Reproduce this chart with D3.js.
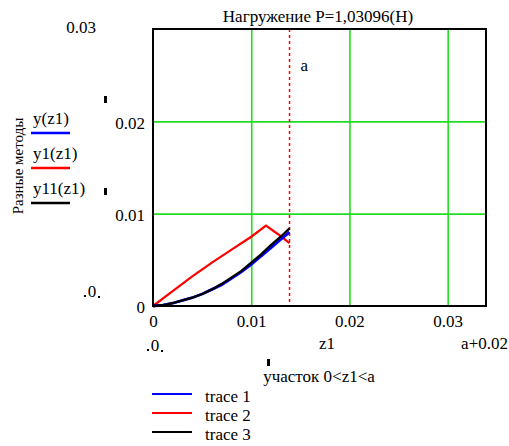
<!DOCTYPE html>
<html>
<head>
<meta charset="utf-8">
<script src="https://cdn.jsdelivr.net/npm/d3@7"></script>
<style>
  html, body { margin: 0; padding: 0; background: #fff; }
  svg { display: block; }
</style>
</head>
<body>
<svg id="chart" width="509" height="446"></svg>
<script>
// Beam deflection on segment 0 < z1 < a, three methods
const aValue = 0.0139;
const xTicks = [0, 0.01, 0.02, 0.03];
const yTicks = [0, 0.01, 0.02];
const xMax = 0.0339;   // a + 0.02
const yMax = 0.03;

const zGrid = [0, 0.001, 0.002, 0.003, 0.004, 0.005, 0.006, 0.007, 0.008, 0.009, 0.010, 0.011, 0.012, 0.013, 0.0139];
const yMain = [0, 0.0001, 0.0003, 0.0006, 0.0009, 0.0013, 0.0018, 0.0023, 0.0030, 0.0037, 0.0045, 0.0054, 0.0063, 0.0072, 0.0080];
const y11   = [0, 0.0001, 0.0003, 0.0006, 0.0009, 0.0013, 0.0018, 0.0024, 0.0031, 0.0038, 0.0047, 0.0056, 0.0066, 0.0075, 0.0084];
const zRed  = [0, 0.002, 0.004, 0.006, 0.008, 0.010, 0.0115, 0.0127, 0.0139];
const y1    = [0, 0.0016, 0.0032, 0.0047, 0.0061, 0.0075, 0.0087, 0.0078, 0.0068];

const seriesNames = ["y(z1)", "y1(z1)", "y11(z1)"];
const traceNames = ["trace 1", "trace 2", "trace 3"];
const colors = ["#0000ff", "#ff0000", "#000000"];

const FONT = "'Liberation Serif', 'Times New Roman', serif";
const SIZE = 17;
const svg = d3.select("#chart").attr("font-family", FONT);
const plotLeft = 153, plotRight = 486, plotTop = 29, plotBottom = 306;

const x = d3.scaleLinear().domain([0, xMax]).range([plotLeft, plotRight]);
const y = d3.scaleLinear().domain([0, yMax]).range([plotBottom, plotTop]);
const fmt = d => d === 0 ? "0" : d3.format(".2f")(d);

function label(px, py, str, anchor = "start", size = SIZE) {
  return svg.append("text").attr("x", px).attr("y", py)
    .attr("font-size", size).attr("font-family", FONT)
    .attr("text-anchor", anchor).attr("fill", "#000")
    .text(str);
}

// grid
const gridX = svg.append("g").attr("transform", `translate(0,${plotBottom})`)
  .call(d3.axisBottom(x).tickValues(xTicks.filter(d => d > 0)).tickSize(-(plotBottom - plotTop)).tickFormat(""));
const gridY = svg.append("g").attr("transform", `translate(${plotLeft},0)`)
  .call(d3.axisLeft(y).tickValues(yTicks.filter(d => d > 0)).tickSize(-(plotRight - plotLeft)).tickFormat(""));
[gridX, gridY].forEach(g => {
  g.select(".domain").remove();
  g.selectAll("line").attr("stroke", "#22dd22").attr("stroke-width", 1.6);
});

// tick labels
const axX = svg.append("g").attr("transform", `translate(0,${plotBottom})`)
  .call(d3.axisBottom(x).tickValues(xTicks).tickSize(0).tickPadding(9).tickFormat(fmt));
const axY = svg.append("g").attr("transform", `translate(${plotLeft},0)`)
  .call(d3.axisLeft(y).tickValues(yTicks).tickSize(0).tickPadding(8).tickFormat(fmt));
[axX, axY].forEach(g => {
  g.select(".domain").remove();
  g.attr("font-family", FONT).attr("font-size", SIZE);
  g.selectAll("text").attr("font-family", FONT).attr("font-size", SIZE).attr("fill", "#000");
});
axY.selectAll("text").attr("dy", "0.4em");
axX.selectAll("text").attr("dy", "0.7em");

// marker line x = a
svg.append("line")
  .attr("x1", x(aValue)).attr("x2", x(aValue))
  .attr("y1", plotTop).attr("y2", plotBottom)
  .attr("stroke", "#ff0000").attr("stroke-width", 1.5).attr("stroke-dasharray", "3,3");
label(x(aValue) + 11, 71, "a");

// curves
const line = d3.line().x(d => x(d[0])).y(d => y(d[1]));
svg.append("path").datum(zRed.map((z, i) => [z, y1[i]]))
  .attr("d", line).attr("fill", "none").attr("stroke", colors[1]).attr("stroke-width", 2.2);
svg.append("path").datum(zGrid.map((z, i) => [z, yMain[i]]))
  .attr("d", line).attr("fill", "none").attr("stroke", colors[0]).attr("stroke-width", 2.8);
svg.append("path").datum(zGrid.map((z, i) => [z, y11[i]]))
  .attr("d", line).attr("fill", "none").attr("stroke", colors[2]).attr("stroke-width", 2.3);

// frame
svg.append("rect").attr("x", plotLeft).attr("y", plotTop).attr("width", plotRight - plotLeft).attr("height", plotBottom - plotTop)
  .attr("fill", "none").attr("stroke", "#000").attr("stroke-width", 2);

// title
label(318, 22, "Нагружение P=1,03096(H)", "middle");

// range limit labels
label(96, 33, fmt(yMax), "end");
function placeholderZero(cx, baseline) {
  label(cx, baseline, "0", "middle");
  svg.append("rect").attr("x", cx - 8).attr("y", baseline - 2).attr("width", 2).attr("height", 2).attr("fill", "#000");
  svg.append("rect").attr("x", cx + 6).attr("y", baseline - 1).attr("width", 2).attr("height", 2).attr("fill", "#000");
}
placeholderZero(92, 297);
placeholderZero(155, 351);
label(327, 349, "z1", "middle");
label(508, 349, "a+0.02", "end");
label(319, 382, "участок 0<z1<a", "middle");

// small markers
svg.append("rect").attr("x", 104).attr("y", 96).attr("width", 3).attr("height", 7).attr("fill", "#000");
svg.append("rect").attr("x", 104).attr("y", 188).attr("width", 3).attr("height", 7).attr("fill", "#000");
svg.append("rect").attr("x", 267).attr("y", 359).attr("width", 3).attr("height", 7).attr("fill", "#000");

// vertical axis title
svg.append("text").attr("transform", "translate(23,166) rotate(-90)").attr("text-anchor", "middle")
  .attr("font-family", FONT).attr("font-size", 15).attr("fill", "#000").text("Разные методы");

// left legend
const legY = [124, 159, 194];
const legLine = [133, 168, 203];
seriesNames.forEach((n, i) => {
  label(33, legY[i], n);
  svg.append("line").attr("x1", 31).attr("x2", 70).attr("y1", legLine[i]).attr("y2", legLine[i])
    .attr("stroke", colors[i]).attr("stroke-width", 2.5);
});

// bottom legend
const trY = [394, 413, 432];
traceNames.forEach((n, i) => {
  svg.append("line").attr("x1", 152).attr("x2", 192).attr("y1", trY[i]).attr("y2", trY[i])
    .attr("stroke", colors[i]).attr("stroke-width", 2);
  label(205, trY[i] + 8, n);
});
</script>
</body>
</html>
